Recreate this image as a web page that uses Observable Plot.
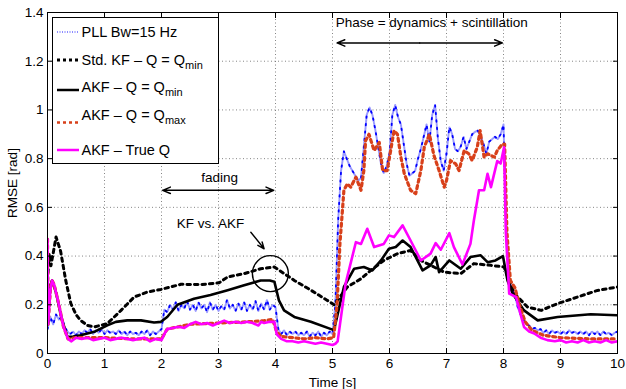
<!DOCTYPE html>
<html><head><meta charset="utf-8">
<script src="https://cdn.jsdelivr.net/npm/d3@7"></script>
<script src="https://cdn.jsdelivr.net/npm/@observablehq/plot@0.6"></script>
<style>body{margin:0;background:#fff;} #chart{width:626px;height:389px;}</style>
</head><body><div id="chart"></div>
<script>
// ---------- data ----------
const xTicks = [0,1,2,3,4,5,6,7,8,9,10];
const yTicks = [0,0.2,0.4,0.6,0.8,1,1.2,1.4];
const yTickLabels = ["0","0.2","0.4","0.6","0.8","1","1.2","1.4"];

// PLL Bw=15 Hz, sampled every 0.05 s from t = 0
const pllStep = 0.05;
const pllValues = [
0.10,0.15,0.12,0.16,0.14,0.15,0.11,0.09,0.08,0.09,
0.075,0.09,0.08,0.095,0.085,0.10,0.08,0.095,0.085,0.10,
0.08,0.095,0.085,0.09,0.08,0.095,0.08,0.09,0.075,0.09,
0.08,0.085,0.075,0.09,0.08,0.095,0.075,0.09,0.08,0.09,
0.10,0.18,0.17,0.20,0.18,0.21,0.175,0.20,0.185,0.215,
0.18,0.20,0.175,0.21,0.185,0.20,0.17,0.21,0.18,0.20,
0.175,0.195,0.18,0.22,0.185,0.20,0.175,0.205,0.18,0.21,
0.175,0.20,0.18,0.215,0.175,0.205,0.18,0.22,0.18,0.20,
0.19,0.10,0.08,0.095,0.075,0.09,0.08,0.09,0.075,0.085,
0.075,0.09,0.07,0.085,0.075,0.09,0.07,0.085,0.075,0.09,
0.08,0.20,0.55,0.75,0.83,0.80,0.77,0.75,0.73,0.71,
0.72,0.85,0.98,1.01,0.98,0.92,0.85,0.78,0.74,0.77,
0.82,0.98,1.02,0.97,0.94,0.86,0.78,0.73,0.74,0.75,
0.80,0.84,0.89,0.94,0.87,0.98,1.02,0.88,0.79,0.75,
0.82,0.93,0.90,0.84,0.83,0.85,0.89,0.84,0.87,0.90,
0.91,0.915,0.89,0.86,0.82,0.87,0.88,0.89,0.88,0.90,
0.94,0.50,0.30,0.26,0.24,0.19,0.16,0.14,0.12,0.115,
0.10,0.105,0.095,0.10,0.085,0.095,0.08,0.095,0.085,0.09,
0.08,0.09,0.08,0.095,0.085,0.09,0.08,0.09,0.08,0.09,
0.075,0.09,0.08,0.09,0.075,0.09,0.08,0.085,0.075,0.085,
0.09];

// Std. KF - Q = Qmin  [time, rmse]
const stdKF = [[0,0.3],[0.03,0.41],[0.06,0.36],[0.15,0.478],[0.23,0.42],[0.32,0.3],[0.41,0.205],[0.5,0.16],[0.58,0.136],[0.7,0.115],[0.82,0.109],[1.05,0.123],[1.29,0.177],[1.52,0.232],[1.75,0.252],[1.99,0.263],[2.34,0.284],[2.69,0.283],[3.01,0.29],[3.16,0.314],[3.45,0.328],[3.74,0.348],[3.98,0.355],[4.33,0.30],[4.62,0.26],[4.91,0.218],[5.03,0.2],[5.26,0.273],[5.5,0.307],[5.67,0.341],[5.9,0.382],[6.14,0.41],[6.37,0.423],[6.55,0.382],[6.78,0.355],[6.96,0.334],[7.25,0.328],[7.48,0.369],[7.78,0.362],[8.01,0.355],[8.19,0.246],[8.42,0.191],[8.66,0.177],[8.95,0.205],[9.3,0.232],[9.65,0.259],[10,0.273]];

// AKF - Q = Qmin
const akfQmin = [[0,0.12],[0.05,0.28],[0.08,0.3],[0.15,0.25],[0.25,0.14],[0.35,0.068],[0.45,0.07],[0.58,0.075],[0.82,0.089],[1.05,0.116],[1.2,0.13],[1.4,0.136],[1.64,0.136],[1.87,0.127],[1.99,0.13],[2.1,0.15],[2.28,0.2],[2.57,0.225],[2.86,0.24],[3.16,0.26],[3.45,0.28],[3.74,0.30],[3.9,0.30],[3.98,0.295],[4.06,0.218],[4.15,0.177],[4.33,0.15],[4.62,0.13],[5.0,0.098],[5.03,0.1],[5.2,0.273],[5.38,0.348],[5.55,0.355],[5.7,0.341],[5.85,0.382],[5.99,0.43],[6.11,0.437],[6.23,0.464],[6.37,0.437],[6.58,0.341],[6.72,0.362],[6.81,0.396],[6.87,0.334],[7.05,0.382],[7.25,0.348],[7.42,0.396],[7.6,0.403],[7.72,0.375],[7.86,0.382],[7.99,0.4],[8.07,0.3],[8.16,0.246],[8.36,0.177],[8.6,0.136],[8.95,0.15],[9.53,0.161],[10,0.157]];

// AKF - Q = Qmax
const akfQmax = [[0,0.47],[0.01,0.12],[0.05,0.26],[0.08,0.30],[0.12,0.28],[0.2,0.2],[0.28,0.11],[0.36,0.06],[0.5,0.065],[1.0,0.065],[1.5,0.06],[2.0,0.06],[2.1,0.1],[2.5,0.12],[3.0,0.125],[3.5,0.13],[3.8,0.135],[3.95,0.14],[4.02,0.09],[4.1,0.07],[4.3,0.065],[4.5,0.06],[4.7,0.065],[4.9,0.06],[5.02,0.065],[5.08,0.2],[5.13,0.45],[5.17,0.574],[5.2,0.67],[5.26,0.697],[5.32,0.683],[5.41,0.724],[5.5,0.67],[5.55,0.751],[5.58,0.874],[5.64,0.9],[5.73,0.833],[5.82,0.867],[5.88,0.751],[5.96,0.751],[6.08,0.915],[6.14,0.9],[6.2,0.806],[6.26,0.738],[6.37,0.67],[6.46,0.656],[6.55,0.751],[6.61,0.847],[6.7,0.9],[6.78,0.813],[6.87,0.751],[6.96,0.683],[7.0,0.71],[7.07,0.792],[7.16,0.779],[7.22,0.751],[7.31,0.833],[7.39,0.82],[7.45,0.792],[7.54,0.847],[7.59,0.915],[7.66,0.806],[7.72,0.82],[7.84,0.806],[7.89,0.833],[7.98,0.86],[8.02,0.86],[8.06,0.5],[8.12,0.3],[8.2,0.27],[8.28,0.2],[8.38,0.13],[8.5,0.095],[8.7,0.075],[9.0,0.065],[9.5,0.06],[10,0.06]];

// AKF - True Q
const akfTrueQ = [[0,0.47],[0.01,0.12],[0.05,0.26],[0.08,0.30],[0.12,0.28],[0.2,0.2],[0.28,0.11],[0.36,0.06],[0.42,0.05],[0.5,0.065],[0.6,0.06],[0.7,0.065],[0.8,0.055],[0.9,0.06],[1.0,0.065],[1.1,0.055],[1.2,0.06],[1.3,0.065],[1.4,0.06],[1.5,0.055],[1.6,0.06],[1.7,0.065],[1.8,0.05],[1.9,0.06],[2.0,0.055],[2.05,0.08],[2.1,0.1],[2.2,0.105],[2.3,0.11],[2.4,0.105],[2.5,0.12],[2.6,0.13],[2.7,0.12],[2.8,0.125],[2.9,0.115],[3.0,0.125],[3.1,0.135],[3.2,0.125],[3.3,0.13],[3.4,0.125],[3.5,0.13],[3.6,0.125],[3.7,0.115],[3.75,0.13],[3.8,0.125],[3.9,0.13],[3.98,0.13],[4.02,0.08],[4.1,0.06],[4.2,0.05],[4.3,0.05],[4.4,0.045],[4.5,0.05],[4.6,0.045],[4.7,0.04],[4.8,0.045],[4.9,0.04],[5.0,0.035],[5.05,0.04],[5.09,0.05],[5.23,0.287],[5.41,0.457],[5.5,0.45],[5.61,0.512],[5.73,0.437],[5.9,0.45],[5.99,0.485],[6.08,0.478],[6.23,0.526],[6.37,0.464],[6.55,0.382],[6.72,0.41],[6.81,0.453],[6.9,0.426],[7.05,0.494],[7.13,0.437],[7.28,0.366],[7.42,0.45],[7.48,0.546],[7.54,0.628],[7.57,0.67],[7.66,0.67],[7.72,0.738],[7.78,0.683],[7.89,0.79],[7.95,0.78],[8.01,0.847],[8.04,0.5],[8.1,0.246],[8.22,0.232],[8.3,0.16],[8.36,0.109],[8.45,0.09],[8.54,0.082],[8.65,0.065],[8.77,0.055],[8.9,0.05],[9.0,0.055],[9.1,0.045],[9.2,0.05],[9.3,0.045],[9.4,0.055],[9.5,0.045],[9.6,0.05],[9.7,0.045],[9.8,0.055],[9.9,0.045],[10,0.05]];

// annotations
const noteTexts = [
  {t: 3.02, v: 0.72, text: "fading"},
  {t: 2.86, v: 0.535, text: "KF vs. AKF"},
  {t: 6.74, v: 1.359, text: "Phase = dynamics + scintillation"}
];
const noteArrows = [
  {x1: 3.0, y1: 0.67, x2: 2.02, y2: 0.67},
  {x1: 3.0, y1: 0.67, x2: 3.97, y2: 0.67},
  {x1: 6.53, y1: 1.275, x2: 5.08, y2: 1.275},
  {x1: 6.53, y1: 1.275, x2: 7.98, y2: 1.275},
  {x1: 3.567, y1: 0.498, x2: 3.80, y2: 0.43}
];
const noteCircle = [{t: 3.91, v: 0.328}];

const legendItems = [
  {main: "PLL Bw=15 Hz", sub: "", color: "#8c8cff", width: 2, dash: "1,1.5"},
  {main: "Std. KF \u2013 Q = Q", sub: "min", color: "black", width: 3, dash: "3,3"},
  {main: "AKF \u2013 Q = Q", sub: "min", color: "black", width: 2.5, dash: null},
  {main: "AKF \u2013 Q = Q", sub: "max", color: "#d8401a", width: 2.5, dash: "3,3"},
  {main: "AKF \u2013 True Q", sub: "", color: "#ff00ff", width: 2.5, dash: null}
];

// ---------- chart ----------
const pll = pllValues.map((v, i) => ({t: i * pllStep, v}));
const X = d => d[0], Y = d => d[1];
const FONT = "'Liberation Sans', Arial, Helvetica, sans-serif";

const chart = Plot.plot({
  width: 626, height: 389,
  marginLeft: 47, marginRight: 9, marginTop: 12, marginBottom: 36,
  style: {fontFamily: FONT, fontSize: "13.5px", background: "white", color: "black"},
  x: {domain: [0, 10]},
  y: {domain: [0, 1.4]},
  marks: [
    Plot.gridX(xTicks, {stroke: "#666", strokeOpacity: 0.8, strokeDasharray: "1,2.5"}),
    Plot.gridY(yTicks, {stroke: "#666", strokeOpacity: 0.8, strokeDasharray: "1,2.5"}),
    Plot.line(pll, {x: "t", y: "v", stroke: "#9a9aff", strokeWidth: 2, strokeDasharray: "1,1", clip: true}),
    Plot.line(pll, {x: "t", y: "v", stroke: "#0000ff", strokeWidth: 1.8, strokeDasharray: "1.5,6", clip: true}),
    Plot.line(stdKF, {x: X, y: Y, stroke: "black", strokeWidth: 3, strokeDasharray: "3.5,4", clip: true}),
    Plot.line(akfQmin, {x: X, y: Y, stroke: "black", strokeWidth: 2.6, clip: true}),
    Plot.line(akfQmax, {x: X, y: Y, stroke: "#d8401a", strokeWidth: 3.2, strokeDasharray: "3,3.5", clip: true}),
    Plot.line(akfTrueQ, {x: X, y: Y, stroke: "#ff00ff", strokeWidth: 2.6, clip: true}),
    Plot.arrow(noteArrows, {x1: "x1", y1: "y1", x2: "x2", y2: "y2", stroke: "black", strokeWidth: 1.4, headLength: 9, headAngle: 45}),
    Plot.dot(noteCircle, {x: "t", y: "v", r: 18, stroke: "black", strokeWidth: 1.4, fill: "none"}),
    Plot.text(noteTexts, {x: "t", y: "v", text: "text", fontSize: 13.5, fill: "black"}),
    Plot.frame({stroke: "black", strokeWidth: 1}),
    Plot.axisX(xTicks, {tickSize: -5, tickPadding: 10, fontSize: 13.5, label: "Time [s]", labelAnchor: "center", labelArrow: "none", labelOffset: 33}),
    Plot.axisY(yTicks, {tickSize: -5, tickPadding: 9, fontSize: 13.5, tickFormat: (d, i) => yTickLabels[i], label: "RMSE [rad]", labelAnchor: "center", labelArrow: "none", labelOffset: 40}),
    Plot.axisX(xTicks, {anchor: "top", tickSize: -5, tickFormat: () => "", label: null}),
    Plot.axisY(yTicks, {anchor: "right", tickSize: -5, tickFormat: () => "", label: null})
  ]
});

// legend box (top-left, inside axes)
const svg = d3.select(chart);
const lg = svg.append("g").attr("font-family", FONT).attr("font-size", 14.5).attr("text-anchor", "start");
lg.append("rect").attr("x", 52.5).attr("y", 17.5).attr("width", 166).attr("height", 146)
  .attr("fill", "white").attr("stroke", "black").attr("stroke-width", 1);
const lineYs = [32, 60, 90, 122.5, 150];
const baseYs = [37, 64.5, 92, 120, 155];
legendItems.forEach((it, i) => {
  const ln = lg.append("line").attr("x1", 57).attr("x2", 79).attr("y1", lineYs[i]).attr("y2", lineYs[i])
    .attr("stroke", it.color).attr("stroke-width", it.width);
  if (it.dash) ln.attr("stroke-dasharray", it.dash);
  const tx = lg.append("text").attr("x", 81.5).attr("y", baseYs[i]).attr("fill", "black").attr("text-anchor", "start");
  tx.append("tspan").text(it.main);
  if (it.sub) tx.append("tspan").attr("dy", 4).attr("font-size", 11).text(it.sub);
});

document.getElementById("chart").appendChild(chart);
</script></body></html>
